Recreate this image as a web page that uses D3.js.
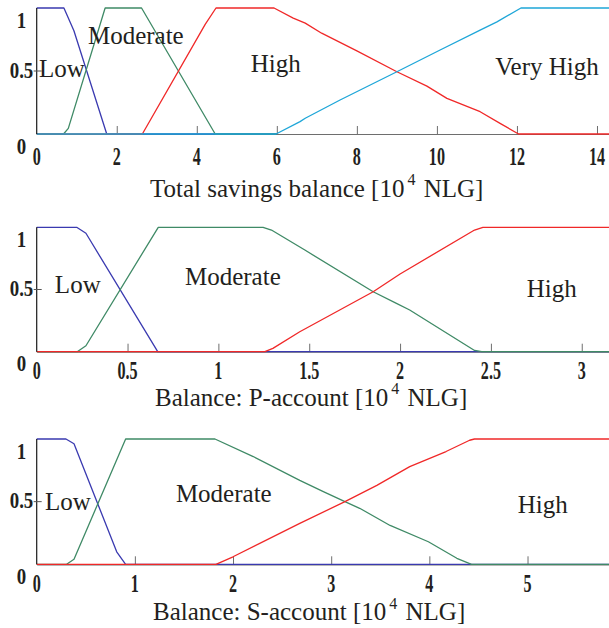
<!DOCTYPE html>
<html>
<head>
<meta charset="utf-8">
<script src="https://cdn.jsdelivr.net/npm/d3@7"></script>
<style>
  body { margin: 0; background: #fff; }
  svg { display: block; }
</style>
</head>
<body>
<script>
// ---- Membership functions, each point is [x, membership] ----

// Total savings balance [10^4 NLG]
const savingsTicks = [0, 2, 4, 6, 8, 10, 12, 14];
const savingsDomain = [0, 14.3];
const savingsCategories = ["Low", "Moderate", "High", "Very High"];
const savingsLow = [[0, 1], [0.68, 1], [0.93, 0.82], [1.75, 0], [6, 0]];
const savingsModerate = [[0, 0], [0.67, 0], [0.79, 0.045], [1.71, 1], [2.62, 1], [4.46, 0], [6, 0]];
const savingsHigh = [[0, 0], [2.64, 0], [4.21, 0.87], [4.48, 1], [5.93, 1], [6.41, 0.92], [6.71, 0.88],
  [7.12, 0.8], [8, 0.66], [9, 0.494], [9.75, 0.38], [10.25, 0.283], [11.08, 0.177], [11.6, 0.08],
  [12.04, 0], [14.3, 0]];
const savingsVeryHigh = [[0, 0], [5.98, 0], [6.58, 0.098], [6.71, 0.125], [7.58, 0.27], [9, 0.494],
  [10.08, 0.667], [11.08, 0.825], [11.5, 0.89], [12.1, 1], [14.3, 1]];

// Balance: P-account [10^4 NLG]
const pTicks = [0, 0.5, 1, 1.5, 2, 2.5, 3];
const pDomain = [0, 3.15];
const pCategories = ["Low", "Moderate", "High"];
const pLow = [[0, 1], [0.22, 1], [0.271, 0.952], [0.666, 0], [3.15, 0]];
const pModerate = [[0, 0], [0.223, 0], [0.271, 0.048], [0.669, 1], [1.246, 1], [1.292, 0.978],
  [1.476, 0.817], [1.852, 0.482], [1.98, 0.389], [2.053, 0.335], [2.41, 0.01], [2.45, 0], [3.15, 0]];
const pHigh = [[0, 0], [1.256, 0], [1.3, 0.027], [1.448, 0.16], [1.852, 0.482], [2.0, 0.625],
  [2.41, 0.978], [2.456, 1], [3.15, 1]];

// Balance: S-account [10^4 NLG]
const sTicks = [0, 1, 2, 3, 4, 5];
const sDomain = [0, 5.83];
const sCategories = ["Low", "Moderate", "High"];
const sLow = [[0, 1], [0.298, 1], [0.38, 0.962], [0.815, 0.1], [0.906, 0], [5.83, 0]];
const sModerate = [[0, 0], [0.305, 0], [0.38, 0.04], [0.906, 1], [1.816, 1], [2.206, 0.86], [2.68, 0.67],
  [2.92, 0.58], [3.14, 0.5], [3.29, 0.447], [3.6, 0.31], [3.99, 0.18], [4.28, 0.048], [4.43, 0], [5.83, 0]];
const sHigh = [[0, 0], [1.826, 0], [2.0, 0.06], [2.68, 0.327], [3.14, 0.5], [3.465, 0.63], [3.8, 0.78],
  [4.17, 0.9], [4.41, 0.99], [4.46, 1], [5.83, 1]];

const yTicks = [0, 0.5, 1];

// ---- Layout and styling ----
const W = 609, H = 628;
const left = 36.7, right = 609;
const colors = ["#3a3ab0", "#3f8a66", "#f02828", "#1ea6d8"];
const textColor = "#231f20";

const panels = [
  { top: 8, bottom: 134, tickBase: 31, titleX: 150, titleBase: 196.7,
    title: "Total savings balance", domain: savingsDomain, ticks: savingsTicks,
    categories: savingsCategories, series: [savingsLow, savingsModerate, savingsHigh, savingsVeryHigh],
    labelAt: [[0.06, 0.45], [1.28, 0.714], [5.35, 0.49], [11.46, 0.468]] },
  { top: 227.3, bottom: 351.7, tickBase: 27, titleX: 155, titleBase: 405.5,
    title: "Balance: P-account", domain: pDomain, ticks: pTicks,
    categories: pCategories, series: [pLow, pModerate, pHigh],
    labelAt: [[0.1, 0.47], [0.816, 0.536], [2.697, 0.44]] },
  { top: 439, bottom: 564.3, tickBase: 28, titleX: 153, titleBase: 620,
    title: "Balance: S-account", domain: sDomain, ticks: sTicks,
    categories: sCategories, series: [sLow, sModerate, sHigh],
    labelAt: [[0.085, 0.433], [1.418, 0.497], [4.9, 0.41]] }
];

const svg = d3.select("body").append("svg")
  .attr("width", W).attr("height", H)
  .attr("viewBox", `0 0 ${W} ${H}`);

panels.forEach(p => {
  const x = d3.scaleLinear().domain(p.domain).range([left, right]);
  const y = d3.scaleLinear().domain([0, 1]).range([p.bottom, p.top]);
  const g = svg.append("g");

  // bottom axis with short inward ticks
  const xAxis = d3.axisBottom(x).tickValues(p.ticks.filter(t => t > 0))
    .tickSizeInner(-8).tickSizeOuter(0).tickFormat("");
  const ax = g.append("g").attr("transform", `translate(0,${p.bottom})`).call(xAxis);
  ax.select(".domain").attr("stroke", "#6e6e6e").attr("stroke-width", 1.2);
  ax.selectAll(".tick line").attr("stroke", "#6e6e6e").attr("stroke-width", 1);

  // x tick labels, bold and condensed
  g.selectAll(".xlab").data(p.ticks).join("text")
    .attr("class", "xlab")
    .attr("transform", d => `translate(${x(d)},${p.bottom + p.tickBase}) scale(0.62,1)`)
    .attr("text-anchor", "middle")
    .attr("font-family", "'Liberation Serif', 'Times New Roman', serif")
    .attr("font-weight", "bold")
    .attr("font-size", 26)
    .attr("fill", textColor)
    .text(d => d3.format("~g")(d));

  // membership curves
  const line = d3.line().x(d => x(d[0])).y(d => y(d[1]));
  p.series.forEach((s, i) => {
    g.append("path").datum(s)
      .attr("d", line)
      .attr("fill", "none")
      .attr("stroke", colors[i])
      .attr("stroke-width", 1.3)
      .attr("stroke-linejoin", "round");
  });

  // left axis
  g.append("line")
    .attr("x1", x(0)).attr("x2", x(0))
    .attr("y1", y(1)).attr("y2", y(0))
    .attr("stroke", "#1a1a1a").attr("stroke-width", 1.2);
  g.append("line")
    .attr("x1", x(0) - 3).attr("x2", x(0) + 5)
    .attr("y1", y(0.5)).attr("y2", y(0.5))
    .attr("stroke", "#555").attr("stroke-width", 1);

  // y tick labels
  g.selectAll(".ylab").data(yTicks).join("text")
    .attr("class", "ylab")
    .attr("transform", d => `translate(21.5,${y(d) + (d === 0.5 ? 6.5 : 19.5)}) scale(0.82,1)`)
    .attr("text-anchor", "middle")
    .attr("font-family", "'Liberation Serif', 'Times New Roman', serif")
    .attr("font-weight", "bold")
    .attr("font-size", 23)
    .attr("fill", textColor)
    .text(d => d3.format("~g")(d));

  // category names
  g.selectAll(".cat").data(p.categories).join("text")
    .attr("class", "cat")
    .attr("x", (d, i) => x(p.labelAt[i][0]))
    .attr("y", (d, i) => y(p.labelAt[i][1]))
    .attr("font-family", "'Liberation Serif', 'Times New Roman', serif")
    .attr("font-size", 25)
    .attr("fill", textColor)
    .text(d => d);

  // axis title with superscript exponent
  const t = g.append("text")
    .attr("x", p.titleX).attr("y", p.titleBase)
    .attr("font-family", "'Liberation Serif', 'Times New Roman', serif")
    .attr("font-size", 25)
    .attr("fill", textColor)
    .style("white-space", "pre");
  t.append("tspan").text(p.title + " [10");
  t.append("tspan").attr("font-size", 16).attr("dx", 3).attr("dy", -11.5).text("4");
  t.append("tspan").attr("dx", 2).attr("dy", 11.5).text(" NLG]");
});
</script>
</body>
</html>
